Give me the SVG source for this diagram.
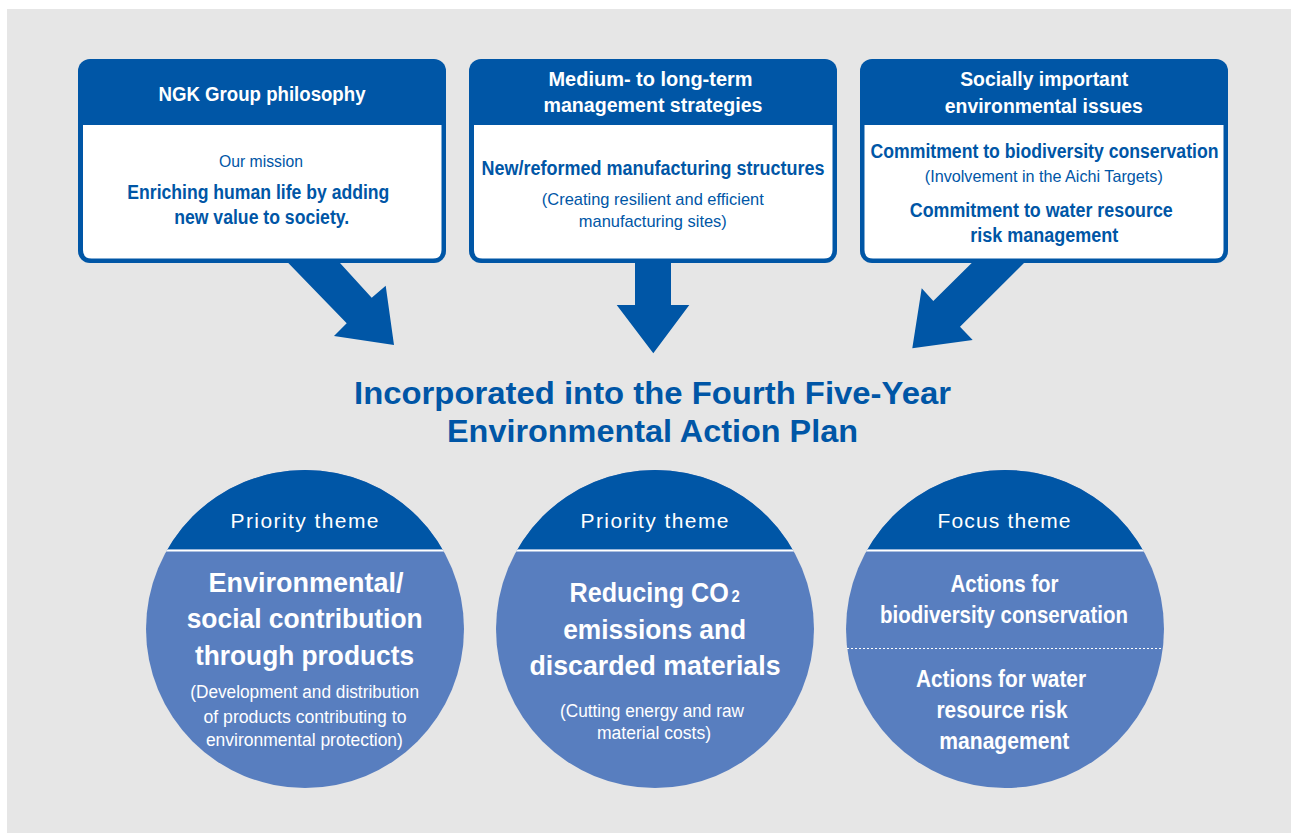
<svg xmlns="http://www.w3.org/2000/svg" width="1291" height="833" viewBox="0 0 1291 833">
  <style>
    .bold { font-family: "Liberation Sans Narrow", "Liberation Sans", Arial, sans-serif; font-weight: bold; text-anchor: middle; }
    .reg { font-family: "Liberation Sans Narrow", "Liberation Sans", Arial, sans-serif; font-weight: normal; text-anchor: middle; }
    .start { text-anchor: start; }
    .white { fill: #ffffff; }
    .blue { fill: #0056a6; }
    .dark { fill: #0056a6; }
    .light { fill: #587ebf; }
    .theme { font-family: "Liberation Sans", Arial, sans-serif; font-weight: normal; text-anchor: middle; fill: #ffffff; font-size: 21px; }
  </style>
  <defs>
    <clipPath id="c1"><circle cx="305" cy="629" r="159"/></clipPath>
    <clipPath id="c2"><circle cx="655" cy="629" r="159"/></clipPath>
    <clipPath id="c3"><circle cx="1005" cy="629" r="159"/></clipPath>
  </defs>

  <rect x="0" y="0" width="1291" height="833" fill="#ffffff"/>
  <rect x="7" y="9" width="1284" height="824" fill="#e6e6e6"/>

  <!-- connectors -->
  <g id="connectors" class="dark">
    <polygon points="288.3,263 340,263 371.7,297.7 385.7,285.7 394,345 334,336 346.7,323.3"/>
    <polygon points="635,263 671,263 671,305 689.3,305 653.3,353.3 616.7,305 635,305"/>
    <polygon points="1024,263 971.7,263 933.3,301 921.7,288.3 912.3,348.3 972.7,340 960,326.7"/>
  </g>

  <!-- Box 1 -->
  <g id="box-philosophy">
    <rect x="78" y="59" width="368" height="204" rx="12" class="dark"/>
    <path d="M83,125 H441.5 V250 Q441.5,258.5 433,258.5 H91.5 Q83,258.5 83,250 Z" class="white"/>
    <text x="262" y="101" class="bold white" font-size="20" textLength="207" lengthAdjust="spacingAndGlyphs">NGK Group philosophy</text>
    <text x="261" y="166.5" class="reg blue" font-size="17" textLength="84" lengthAdjust="spacingAndGlyphs">Our mission</text>
    <text x="258.3" y="199" class="bold blue" font-size="20" textLength="262" lengthAdjust="spacingAndGlyphs">Enriching human life by adding</text>
    <text x="261.7" y="224" class="bold blue" font-size="20" textLength="175" lengthAdjust="spacingAndGlyphs">new value to society.</text>
  </g>

  <!-- Box 2 -->
  <g id="box-strategies">
    <rect x="469" y="59" width="368" height="204" rx="12" class="dark"/>
    <path d="M474,125 H832.5 V250 Q832.5,258.5 824,258.5 H482.5 Q474,258.5 474,250 Z" class="white"/>
    <text x="650.5" y="86" class="bold white" font-size="20" textLength="204" lengthAdjust="spacingAndGlyphs">Medium- to long-term</text>
    <text x="653" y="112" class="bold white" font-size="20" textLength="219" lengthAdjust="spacingAndGlyphs">management strategies</text>
    <text x="653" y="175" class="bold blue" font-size="20" textLength="343" lengthAdjust="spacingAndGlyphs">New/reformed manufacturing structures</text>
    <text x="652.8" y="205" class="reg blue" font-size="17" textLength="222" lengthAdjust="spacingAndGlyphs">(Creating resilient and efficient</text>
    <text x="652.8" y="227" class="reg blue" font-size="17" textLength="148" lengthAdjust="spacingAndGlyphs">manufacturing sites)</text>
  </g>

  <!-- Box 3 -->
  <g id="box-issues">
    <rect x="860" y="59" width="368" height="204" rx="12" class="dark"/>
    <path d="M864.5,125 H1223.5 V250 Q1223.5,258.5 1215,258.5 H873 Q864.5,258.5 864.5,250 Z" class="white"/>
    <text x="1044.2" y="86" class="bold white" font-size="20" textLength="168" lengthAdjust="spacingAndGlyphs">Socially important</text>
    <text x="1043.8" y="113" class="bold white" font-size="20" textLength="198" lengthAdjust="spacingAndGlyphs">environmental issues</text>
    <text x="1044.5" y="158.3" class="bold blue" font-size="20" textLength="348" lengthAdjust="spacingAndGlyphs">Commitment to biodiversity conservation</text>
    <text x="1043.8" y="182" class="reg blue" font-size="16.5" textLength="238" lengthAdjust="spacingAndGlyphs">(Involvement in the Aichi Targets)</text>
    <text x="1041.3" y="217" class="bold blue" font-size="20" textLength="263" lengthAdjust="spacingAndGlyphs">Commitment to water resource</text>
    <text x="1044.2" y="242" class="bold blue" font-size="20" textLength="148" lengthAdjust="spacingAndGlyphs">risk management</text>
  </g>

  <!-- Title -->
  <g id="title">
    <text x="652.5" y="404" class="bold blue" font-size="31" textLength="597" lengthAdjust="spacingAndGlyphs">Incorporated into the Fourth Five-Year</text>
    <text x="652.5" y="442" class="bold blue" font-size="31" textLength="411" lengthAdjust="spacingAndGlyphs">Environmental Action Plan</text>
  </g>

  <!-- Circle 1 -->
  <g id="theme-products">
    <circle cx="305" cy="629" r="159" class="light"/>
    <rect x="140" y="460" width="330" height="89.5" class="dark" clip-path="url(#c1)"/>
    <rect x="140" y="549.5" width="330" height="2" class="white" clip-path="url(#c1)"/>
    <text x="304.5" y="528" class="theme" textLength="148" lengthAdjust="spacing">Priority theme</text>
    <text x="306" y="592" class="bold white" font-size="28" textLength="195" lengthAdjust="spacingAndGlyphs">Environmental/</text>
    <text x="304.7" y="628.3" class="bold white" font-size="28" textLength="236" lengthAdjust="spacingAndGlyphs">social contribution</text>
    <text x="304.5" y="664.5" class="bold white" font-size="28" textLength="219" lengthAdjust="spacingAndGlyphs">through products</text>
    <text x="304.7" y="698.3" class="reg white" font-size="18" textLength="229" lengthAdjust="spacingAndGlyphs">(Development and distribution</text>
    <text x="305" y="723" class="reg white" font-size="18" textLength="203" lengthAdjust="spacingAndGlyphs">of products contributing to</text>
    <text x="304.4" y="746" class="reg white" font-size="18" textLength="197" lengthAdjust="spacingAndGlyphs">environmental protection)</text>
  </g>

  <!-- Circle 2 -->
  <g id="theme-co2">
    <circle cx="655" cy="629" r="159" class="light"/>
    <rect x="490" y="460" width="330" height="89.5" class="dark" clip-path="url(#c2)"/>
    <rect x="490" y="549.5" width="330" height="2" class="white" clip-path="url(#c2)"/>
    <text x="654.5" y="528" class="theme" textLength="148" lengthAdjust="spacing">Priority theme</text>
    <text transform="translate(569.5,601.7) scale(0.898,1)" x="0" y="0" class="bold white start" font-size="28">Reducing CO<tspan font-size="16.5" dx="3">2</tspan></text>
    <text x="654.7" y="638.5" class="bold white" font-size="28" textLength="183" lengthAdjust="spacingAndGlyphs">emissions and</text>
    <text x="655" y="675" class="bold white" font-size="28" textLength="251" lengthAdjust="spacingAndGlyphs">discarded materials</text>
    <text x="652" y="716.7" class="reg white" font-size="18" textLength="184" lengthAdjust="spacingAndGlyphs">(Cutting energy and raw</text>
    <text x="654" y="738.5" class="reg white" font-size="18" textLength="114" lengthAdjust="spacingAndGlyphs">material costs)</text>
  </g>

  <!-- Circle 3 -->
  <g id="theme-focus">
    <circle cx="1005" cy="629" r="159" class="light"/>
    <rect x="840" y="460" width="330" height="89.5" class="dark" clip-path="url(#c3)"/>
    <rect x="840" y="549.5" width="330" height="2" class="white" clip-path="url(#c3)"/>
    <line x1="847" y1="648.5" x2="1163" y2="648.5" stroke="#ffffff" stroke-width="1" stroke-dasharray="2 2"/>
    <text x="1004" y="528" class="theme" textLength="133" lengthAdjust="spacing">Focus theme</text>
    <text x="1004.5" y="591.7" class="bold white" font-size="24" textLength="108" lengthAdjust="spacingAndGlyphs">Actions for</text>
    <text x="1004" y="623.3" class="bold white" font-size="24" textLength="248" lengthAdjust="spacingAndGlyphs">biodiversity conservation</text>
    <text x="1001" y="686.7" class="bold white" font-size="24" textLength="170" lengthAdjust="spacingAndGlyphs">Actions for water</text>
    <text x="1002" y="718.3" class="bold white" font-size="24" textLength="131" lengthAdjust="spacingAndGlyphs">resource risk</text>
    <text x="1004.3" y="749.3" class="bold white" font-size="24" textLength="130" lengthAdjust="spacingAndGlyphs">management</text>
  </g>
</svg>
